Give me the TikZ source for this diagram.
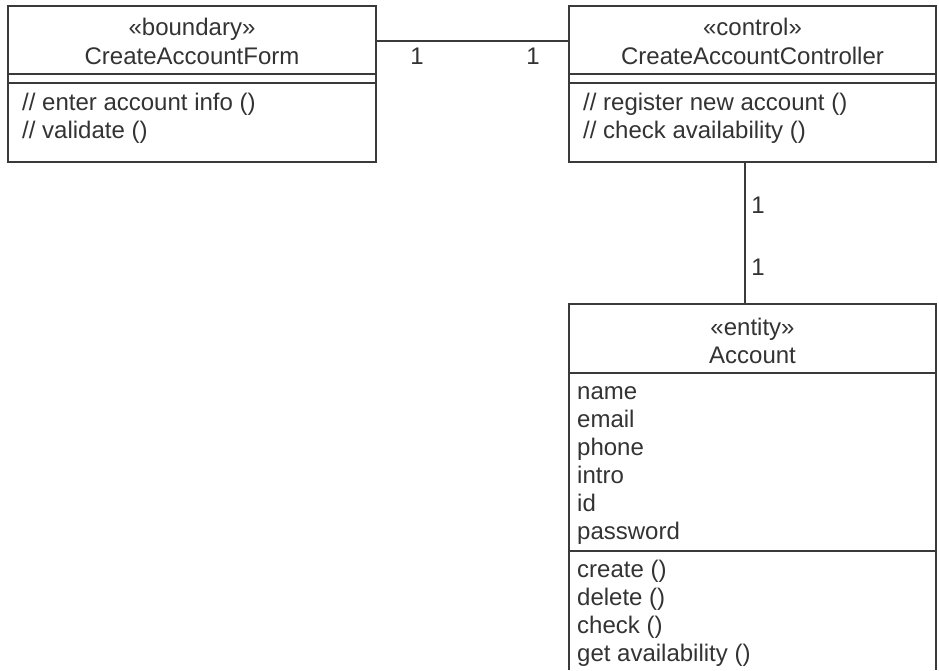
\documentclass[tikz,border=0pt]{standalone}
\usepackage{fontspec}
\setmainfont{Liberation Sans}
\definecolor{ink}{HTML}{333333}
\definecolor{edge}{HTML}{3A3A3A}
\begin{document}
\begin{tikzpicture}[x=1pt,y=-1pt,
  box/.style={draw=edge,line width=1.6pt,fill=none,inner sep=0pt,minimum width=368pt},
  txt/.style={inner sep=0pt,text=ink,font=\fontsize{24}{28}\selectfont},
  ctxt/.style={txt,anchor=base},
  ltxt/.style={txt,anchor=base west},
  sep/.style={draw=edge,line width=1.4pt},
  conn/.style={draw=edge,line width=1.6pt}]
\useasboundingbox (0,0) rectangle (939,670);
\clip (0,0) rectangle (939,669);
\fill[white] (0,0) rectangle (939,670);
% boxes
\node[box,minimum height=156pt] (form) at (192,84) {};
\node[box,minimum width=367pt,minimum height=156pt] (ctrl) at (752.5,84) {};
\node[box,minimum width=367pt,minimum height=390pt] (acct) at (752.5,499) {};
% separators
\draw[sep] (form.west |- 0,74) -- (form.east |- 0,74);
\draw[sep] (form.west |- 0,83) -- (form.east |- 0,83);
\draw[sep] (ctrl.west |- 0,74) -- (ctrl.east |- 0,74);
\draw[sep] (ctrl.west |- 0,83) -- (ctrl.east |- 0,83);
\draw[sep] (acct.west |- 0,373) -- (acct.east |- 0,373);
\draw[sep] (acct.west |- 0,551) -- (acct.east |- 0,551);
% form texts
\node[ctxt] (fst) at (192,35) {«boundary»};
\node[ctxt] (fnm) at (192,64) {CreateAccountForm};
\node[ltxt] (fo1) at (22,110) {// enter account info ()};
\node[ltxt] (fo2) at (22,138) {// validate ()};
% controller texts
\node[ctxt] (cst) at (752.5,35) {«control»};
\node[ctxt] (cnm) at (752.5,64) {CreateAccountController};
\node[ltxt] (co1) at (583,110) {// register new account ()};
\node[ltxt] (co2) at (583,138) {// check availability ()};
% account texts
\node[ctxt] (ast) at (752.5,335) {«entity»};
\node[ctxt] (anm) at (752.5,363) {Account};
\node[ltxt] (a1) at (577,399) {name};
\node[ltxt] (a2) at (577,427) {email};
\node[ltxt] (a3) at (577,455) {phone};
\node[ltxt] (a4) at (577,483) {intro};
\node[ltxt] (a5) at (577,511) {id};
\node[ltxt] (a6) at (577,539) {password};
\node[ltxt] (m1) at (577,577) {create ()};
\node[ltxt] (m2) at (577,605) {delete ()};
\node[ltxt] (m3) at (577,633) {check ()};
\node[ltxt] (m4) at (577,661) {get availability ()};
% connectors
\coordinate (hy) at (0,41);
\coordinate (vx) at (745,0);
\draw[conn] (form.east |- hy) -- (ctrl.west |- hy);
\draw[conn] (ctrl.south -| vx) -- (acct.north -| vx);
% multiplicities
\node[ctxt] (mu1) at (417,64) {1};
\node[ctxt] (mu2) at (533,64) {1};
\node[ctxt] (mu3) at (758,213) {1};
\node[ctxt] (mu4) at (758,275) {1};
\end{tikzpicture}
\end{document}
